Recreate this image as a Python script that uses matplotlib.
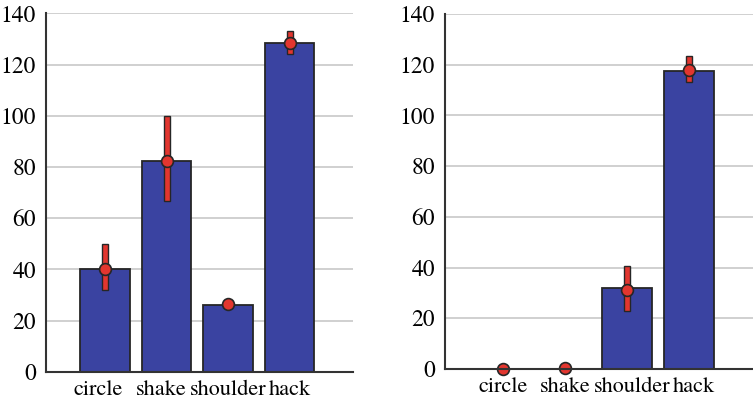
import matplotlib

matplotlib.use('Agg')
import matplotlib.pyplot as plt
from matplotlib.transforms import ScaledTranslation

plt.rcParams['font.family'] = ['TeX Gyre Termes', 'STIXGeneral', 'DejaVu Serif']

categories = ['circle', 'shake', 'shoulder', 'hack']
yticks = [0, 20, 40, 60, 80, 100, 120, 140]

# left panel
left_bars = [40, 82.5, 26, 128.5]
left_means = [40, 82.5, 26.5, 128.5]
left_lo = [32, 66.5, 26.5, 124]
left_hi = [50, 100, 26.5, 133]

# right panel
right_bars = [0, 0, 32, 117.5]
right_means = [0, 0.5, 31.3, 118]
right_lo = [0, 0.5, 22.7, 113.3]
right_hi = [0, 0.5, 40.7, 123.3]

bar_color = '#3a43a1'
edge_color = '#262626'
err_color = '#e2362f'

fig = plt.figure(figsize=(7.53, 4.0), dpi=100)
ax1 = fig.add_axes([46 / 753, 1 - 371.7 / 400, 307 / 753, 358.4 / 400])
ax2 = fig.add_axes([445 / 753, 1 - 369 / 400, 308 / 753, 355 / 400])


def draw(ax, bars, means, lo, hi, xlim, nudge):
    x = list(range(len(categories)))
    ax.bar(x, bars, width=0.8, color=bar_color, edgecolor=edge_color,
           linewidth=1.3, zorder=3)
    # error ranges drawn as thin outlined bars
    spans = [h - l for l, h in zip(lo, hi)]
    ax.bar(x, spans, bottom=lo, width=0.1, color=err_color,
           edgecolor=edge_color, linewidth=1.0, zorder=4)
    ax.plot(x, means, 'o', color=err_color, markersize=8.5,
            markeredgecolor=edge_color, markeredgewidth=1.2, zorder=5,
            clip_on=False)
    ax.set_xlim(*xlim)
    ax.set_ylim(0, 140)
    ax.set_yticks(yticks)
    ax.set_xticks(x)
    ax.set_xticklabels(categories, fontsize=16)
    ax.tick_params(axis='y', length=0, labelsize=17, pad=7)
    ax.tick_params(axis='x', length=0, pad=6)
    # small horizontal shifts of the category labels (in pixels)
    for lab, dx in zip(ax.get_xticklabels(), nudge):
        lab.set_transform(lab.get_transform() +
                          ScaledTranslation(dx / 100, 0, fig.dpi_scale_trans))
    ax.grid(axis='y', color='#c8c8c8', linewidth=1.2, zorder=0)
    ax.set_axisbelow(True)
    for s in ['top', 'right']:
        ax.spines[s].set_visible(False)
    for s in ['left', 'bottom']:
        ax.spines[s].set_color('#333333')
        ax.spines[s].set_linewidth(1.5)
        ax.spines[s].set_zorder(6)


draw(ax1, left_bars, left_means, left_lo, left_hi, (-0.96, 4.03), [-7, -5, 0, 0])
draw(ax2, right_bars, right_means, right_lo, right_hi, (-0.935, 4.03), [0, 0, 5, 5])

plt.savefig('out.png', dpi=100)
